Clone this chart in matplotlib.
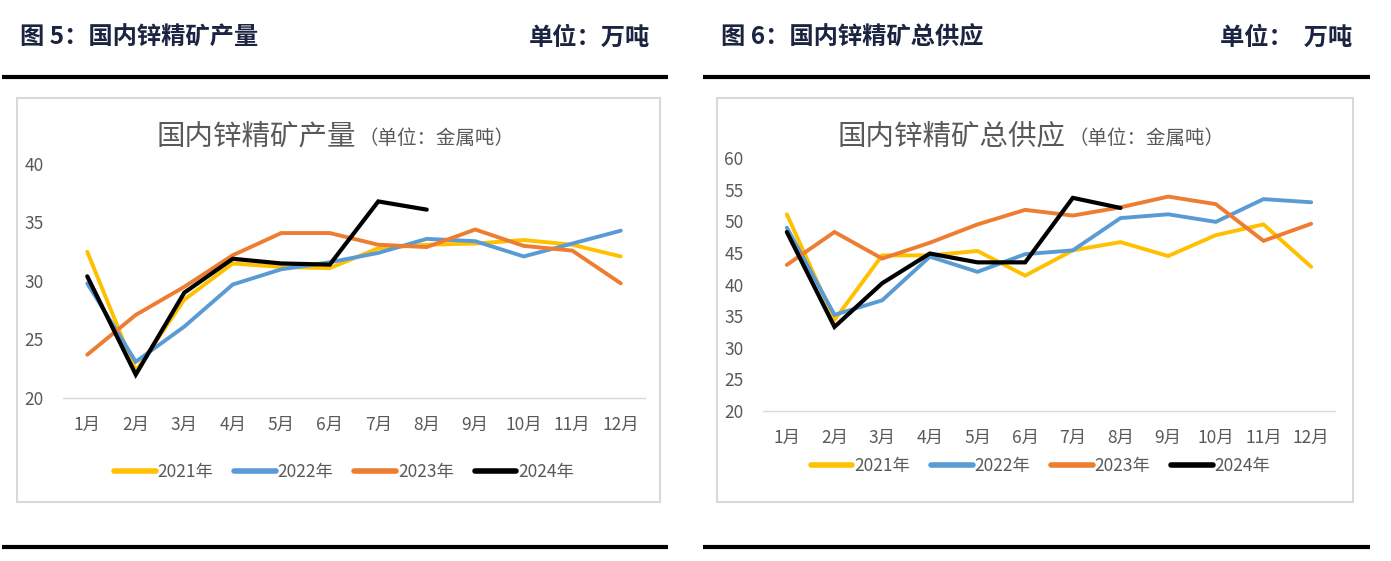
import matplotlib
matplotlib.use("Agg")
import matplotlib.pyplot as plt
from matplotlib.patches import Rectangle
from matplotlib.lines import Line2D

plt.rcParams['font.family'] = ['Noto Sans CJK SC', 'DejaVu Sans']

months = ['1月', '2月', '3月', '4月', '5月', '6月', '7月', '8月', '9月', '10月', '11月', '12月']
years = ['2021年', '2022年', '2023年', '2024年']
colors = ['#FFC000', '#5B9BD5', '#ED7D31', '#000000']

# Fig 5: domestic zinc concentrate output
prod_2021 = [32.5, 22.3, 28.4, 31.5, 31.2, 31.1, 32.8, 33.1, 33.2, 33.5, 33.1, 32.1]
prod_2022 = [29.8, 23.1, 26.1, 29.7, 31.0, 31.6, 32.4, 33.6, 33.4, 32.1, 33.2, 34.3]
prod_2023 = [23.7, 27.1, 29.5, 32.2, 34.1, 34.1, 33.1, 32.9, 34.4, 33.0, 32.6, 29.8]
prod_2024 = [30.4, 22.0, 29.0, 31.9, 31.5, 31.4, 36.8, 36.1]

# Fig 6: domestic zinc concentrate total supply
sup_2021 = [51.1, 34.4, 44.6, 44.6, 45.3, 41.4, 45.4, 46.7, 44.5, 47.8, 49.5, 42.8]
sup_2022 = [49.0, 35.2, 37.5, 44.4, 42.0, 44.8, 45.4, 50.5, 51.1, 49.9, 53.5, 53.0]
sup_2023 = [43.1, 48.3, 44.1, 46.6, 49.5, 51.8, 50.9, 52.2, 53.9, 52.7, 46.9, 49.6]
sup_2024 = [48.3, 33.3, 40.2, 44.9, 43.5, 43.5, 53.7, 52.1]

W, H = 1391, 561
fig = plt.figure(figsize=(W / 100, H / 100), dpi=100)


def fx(x):
    return x / W


def fy(y):
    return 1 - y / H


def hline(x0, x1, y, lw):
    fig.add_artist(Line2D([fx(x0), fx(x1)], [fy(y), fy(y)], color='black', lw=lw,
                          transform=fig.transFigure, solid_capstyle='butt'))


head_color = '#1B2541'
gray = '#595959'


def panel(x0, x1, header, unit, unit_x, box, ax_px, ylim, yticks, series, title, title_xy, legend_y):
    fig.text(fx(x0 + 18), fy(38), header, fontsize=17.5, fontweight='bold', color=head_color,
             va='center', ha='left')
    fig.text(fx(unit_x), fy(38), unit, fontsize=17.5, fontweight='bold', color=head_color,
             va='center', ha='right')
    hline(x0, x1, 77, 3)
    hline(x0, x1, 547, 3)
    bx0, by0, bx1, by1 = box
    fig.add_artist(Rectangle((fx(bx0), fy(by1)), fx(bx1 - bx0), fy(by0) - fy(by1),
                             transform=fig.transFigure, fill=False, edgecolor='#D9D9D9', lw=1.5))
    ax0, ay0, ax1, ay1 = ax_px
    ax = fig.add_axes([fx(ax0), fy(ay1), fx(ax1 - ax0), fy(ay0) - fy(ay1)])
    x = list(range(len(months)))
    for vals, c, lab in zip(series, colors, years):
        lw = 3.0 if c == '#000000' else 2.8
        ax.plot(x[:len(vals)], vals, color=c, lw=lw, label=lab, solid_capstyle='round',
                solid_joinstyle='miter')
    ax.set_xlim(-0.5, 11.5)
    ax.set_ylim(*ylim)
    ax.set_yticks(yticks)
    ax.set_xticks(x)
    ax.set_xticklabels(months)
    for s in ['top', 'right', 'left']:
        ax.spines[s].set_visible(False)
    ax.spines['bottom'].set_color('#D9D9D9')
    ax.spines['bottom'].set_linewidth(1)
    ax.tick_params(axis='both', length=0, labelsize=12.5, colors=gray)
    ax.tick_params(axis='x', pad=13)
    ax.tick_params(axis='y', pad=14)
    tx, ty = title_xy
    fig.text(fx(tx), fy(ty), title, fontsize=20.5, color=gray, ha='right', va='center')
    fig.text(fx(tx + 3), fy(ty + 2), '（单位：金属吨）', fontsize=14, color=gray, ha='left', va='center')
    handles = [Line2D([], [], color=c, lw=4, solid_capstyle='round') for c in colors]
    fig.legend(handles, years, loc='center', bbox_to_anchor=(fx((bx0 + bx1) / 2) + 0.004, fy(legend_y)),
               ncol=4, frameon=False, fontsize=12.5, labelcolor=gray, handlelength=2.4,
               handletextpad=0.1, columnspacing=1.2)
    return ax


panel(2, 668, '图 5：国内锌精矿产量', '单位：万吨', 650,
      (17, 98, 660, 502), (63, 164, 645, 398), (20, 40), [20, 25, 30, 35, 40],
      [prod_2021, prod_2022, prod_2023, prod_2024], '国内锌精矿产量', (356, 136), 472)

panel(703, 1370, '图 6：国内锌精矿总供应', '单位：  万吨', 1352,
      (717, 98, 1353, 502), (763, 158, 1335, 411), (20, 60), list(range(20, 61, 5)),
      [sup_2021, sup_2022, sup_2023, sup_2024], '国内锌精矿总供应', (1066, 136), 466)

fig.savefig('out.png', dpi=100)
